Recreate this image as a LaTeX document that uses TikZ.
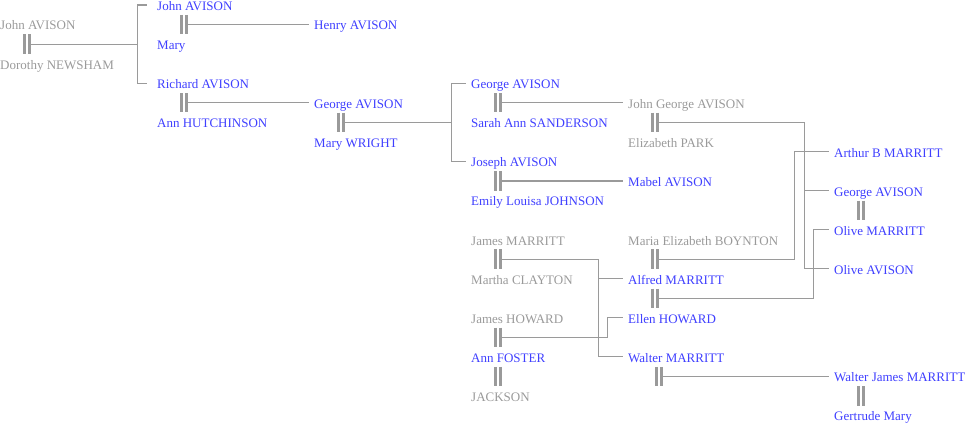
\documentclass[tikz,border=0pt]{standalone}
\usepackage{fontspec}
\setmainfont{Liberation Serif}
\usepackage{xcolor}
\definecolor{cGray}{HTML}{9A9A9A}
\definecolor{cBlue}{HTML}{3F3FFF}
\definecolor{cLine}{HTML}{9A9A9A}
\usepackage{tikz}
\usetikzlibrary{positioning}
\tikzset{
  person/.style={anchor=west,inner xsep=5.5pt,inner ysep=0pt,xshift=-5.5pt,
    text height=10.8pt,text depth=0pt,font=\fontsize{13}{15}\selectfont},
  person-in/.style={person,text=cGray},
  person-out/.style={person,text=cBlue},
  % children of the first couple sit further from their fork
  person-far/.style={inner xsep=10pt,xshift=-4.5pt},
  wed-box/.style={minimum width=4.2pt,minimum height=19pt,inner sep=0pt,xshift=27pt},
  wed-bar/.style={draw=cLine,line width=2.8pt},
  link/.style={draw=cLine,line width=1.1pt},
}

\begin{document}
\begin{tikzpicture}[x=1pt,y=-19.55pt]
  \useasboundingbox (0,-0.2558) rectangle (966,21.432);

  % people: (column, row)
  \node[person-in] (johnA) at (0,1) {John AVISON};
  \node[person-in] (dorothy) at (0,3) {Dorothy NEWSHAM};

  \node[person-out,person-far] (johnB) at (157,0) {John AVISON};
  \node[person-out] (mary) at (157,2) {Mary};
  \node[person-out,person-far] (richard) at (157,4) {Richard AVISON};
  \node[person-out] (annH) at (157,6) {Ann HUTCHINSON};

  \node[person-out] (henry) at (314,1) {Henry AVISON};
  \node[person-out] (georgeA) at (314,5) {George AVISON};
  \node[person-out] (maryW) at (314,7) {Mary WRIGHT};

  \node[person-out] (georgeB) at (471,4) {George AVISON};
  \node[person-out] (sarah) at (471,6) {Sarah Ann SANDERSON};
  \node[person-out] (joseph) at (471,8) {Joseph AVISON};
  \node[person-out] (emily) at (471,10) {Emily Louisa JOHNSON};
  \node[person-in] (jamesM) at (471,12) {James MARRITT};
  \node[person-in] (martha) at (471,14) {Martha CLAYTON};
  \node[person-in] (jamesH) at (471,16) {James HOWARD};
  \node[person-out] (annF) at (471,18) {Ann FOSTER};
  \node[person-in] (jackson) at (471,20) {JACKSON};

  \node[person-in] (johnG) at (628,5) {John George AVISON};
  \node[person-in] (elizabeth) at (628,7) {Elizabeth PARK};
  \node[person-out] (mabel) at (628,9) {Mabel AVISON};
  \node[person-in] (maria) at (628,12) {Maria Elizabeth BOYNTON};
  \node[person-out] (alfred) at (628,14) {Alfred MARRITT};
  \node[person-out] (ellen) at (628,16) {Ellen HOWARD};
  \node[person-out] (walter) at (628,18) {Walter MARRITT};

  \node[person-out] (arthur) at (834,7.5) {Arthur B MARRITT};
  \node[person-out] (georgeC) at (834,9.5) {George AVISON};
  \node[person-out] (oliveM) at (834,11.5) {Olive MARRITT};
  \node[person-out] (oliveA) at (834,13.5) {Olive AVISON};
  \node[person-out] (walterJ) at (834,19) {Walter James MARRITT};
  \node[person-out] (gertrude) at (834,21) {Gertrude Mary};

  % marriage bars
  \foreach \n/\x/\r in {w0/0/2, w1/157/1, w2/157/5, w3/314/6, w4/471/5,
      w5/471/9, w6/628/6, w7/471/13, w8/471/17, w9/471/19, w10/628/13,
      w11/628/15, w12/632/19, w13/834/10.5, w14/834/20} {
    \node[wed-box] (\n) at (\x,\r) {};
    \draw[wed-bar] (\n.north west) -- (\n.south west) (\n.north east) -- (\n.south east);
  }

  % forks
  \coordinate (f0) at (137.3,2);
  \coordinate (f1) at (451.7,6);
  \coordinate (f2) at (804.3,6);
  \coordinate (f3) at (598.3,13);
  \coordinate (f4) at (607.3,17);
  \coordinate (f5) at (794.3,13);
  \coordinate (f6) at (813.3,15);

  \draw[link] (w0.east) -- (f0) |- (johnB.west);
  \draw[link] (f0) |- (richard.west);
  \draw[link] (w1.east) -- (henry.west);
  \draw[link] (w2.east) -- (georgeA.west);
  \draw[link] (w3.east) -- (f1) |- (georgeB.west);
  \draw[link] (f1) |- (joseph.west);
  \draw[link] (w4.east) -- (johnG.west);
  \draw[link] (w5.east) -- (mabel.west);
  \draw[link] (w6.east) -- (f2) |- (georgeC.west);
  \draw[link] (f2) |- (oliveA.west);
  \draw[link] (w7.east) -- (f3) |- (alfred.west);
  \draw[link] (f3) |- (walter.west);
  \draw[link] (w8.east) -- (f4) |- (ellen.west);
  \draw[link] (w10.east) -- (f5) |- (arthur.west);
  \draw[link] (w11.east) -- (f6) |- (oliveM.west);
  \draw[link] (w12.east) -- (walterJ.west);
\end{tikzpicture}
\end{document}
